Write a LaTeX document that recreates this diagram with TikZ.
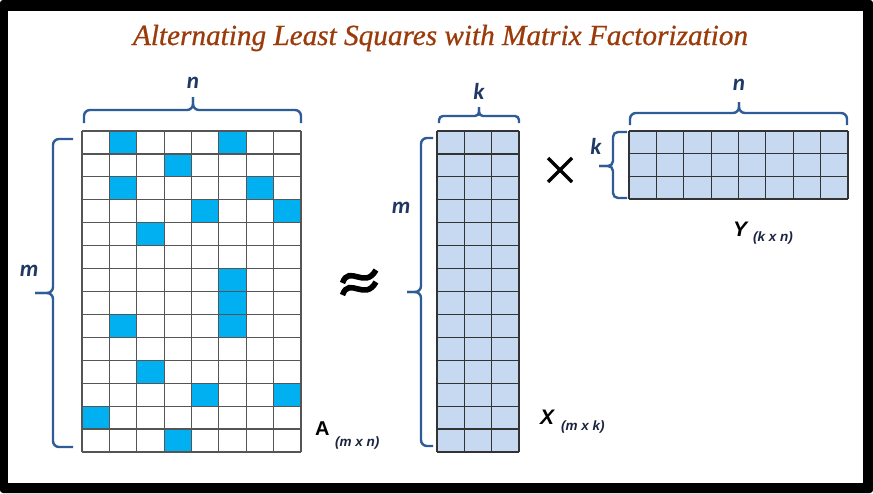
\documentclass[tikz,border=0pt]{standalone}
\usepackage{fontspec}
\usepackage{graphicx}
\newfontfamily\titlefont{Liberation Serif}[ItalicFeatures={FakeBold=0.7}]
\newfontfamily\lblfont{Carlito}
\newfontfamily\arialfont{Liberation Sans}
\definecolor{titlebrown}{HTML}{9C3B0A}
\definecolor{braceblue}{HTML}{2F5C96}
\definecolor{labelblue}{HTML}{1F3864}
\definecolor{subnavy}{HTML}{1A2440}
\definecolor{cellcyan}{HTML}{00B0F0}
\definecolor{cellpale}{HTML}{C6D9F1}
\definecolor{gridgrayA}{HTML}{555555}
\definecolor{gridgrayX}{HTML}{333333}
\begin{document}
\begin{tikzpicture}[x=1pt,y=-1pt,
  bracestyle/.style={draw=braceblue, line width=2.4pt, rounded corners=6pt},
  dimlabel/.style={font=\lblfont\bfseries\itshape\fontsize{23}{23}\selectfont, text=labelblue, inner sep=0pt},
  namelabel/.style={font=\arialfont\bfseries\fontsize{20}{20}\selectfont, inner sep=0pt, anchor=base west},
  namelabelit/.style={font=\arialfont\bfseries\itshape\fontsize{21}{21}\selectfont, inner sep=0pt, anchor=base west},
  sublabel/.style={font=\arialfont\bfseries\itshape\fontsize{13.5}{13.5}\selectfont, text=subnavy, inner sep=0pt, anchor=base west},
  gridA/.style={draw=gridgrayA, line width=1.2pt},
  gridX/.style={draw=gridgrayX, line width=1.2pt},
  matbox/.style={inner sep=0pt, anchor=north west, draw=none}
]
\useasboundingbox (0,0) rectangle (873,493);
% frame
\fill[black, rounded corners=3pt] (0,0) rectangle (873,493);
\fill[white] (8,11) rectangle (863,483);

% title
\node[name=title, text=titlebrown, inner sep=0pt] at (440.5,38)
  {\resizebox{615pt}{!}{\titlefont\itshape\fontsize{28}{28}\selectfont Alternating Least Squares with Matrix Factorization}};

% ---------- matrix A ----------
\node[matbox, name=matA, minimum width=219pt, minimum height=321pt] at (82,131) {};
\fill[white] (82,131) rectangle (301,452);
\foreach \c/\r in {1/0,5/0,3/1,1/2,6/2,4/3,7/3,2/4,5/6,5/7,1/8,5/8,2/10,4/11,7/11,0/12,3/13}
  \fill[cellcyan] (82+\c*27.375,131+\r*22.93) rectangle ++(27.375,22.93);
\foreach \i in {0,...,8}
  \draw[gridA] (82+\i*27.375,131) -- (82+\i*27.375,452);
\foreach \j in {0,...,14}
  \draw[gridA] (82,131+\j*22.93) -- (301,131+\j*22.93);

% braces of A
\coordinate (Atl) at (84,123); \coordinate (Atr) at (301,123);
\coordinate (Atm) at (193,110); \coordinate (Att) at (193,97);
\draw[bracestyle] (Atl) |- (Atm) -- (Att);
\draw[bracestyle] (Atr) |- (Atm) -- (Att);
\coordinate (Alt) at (73,139); \coordinate (Alb) at (73,447);
\coordinate (Alm) at (53,293); \coordinate (Alp) at (35,293);
\draw[bracestyle] (Alt) -| (Alm) -- (Alp);
\draw[bracestyle] (Alb) -| (Alm) -- (Alp);
\node[dimlabel, name=nA] at (193,83) {n};
\node[dimlabel, name=mA] at (29,271) {m};

\node[namelabel, name=labA] at (315,435) {A};
\node[sublabel, name=subA] at (335,446) {(m x n)};

% approx sign
\draw[line width=5.6pt, line cap=butt] (342.5,283) .. controls (349,264) and (365,290) .. (376,270);
\draw[line width=5.6pt, line cap=butt] (342.5,295) .. controls (349,276) and (365,302) .. (376,282);

% ---------- matrix X ----------
\node[matbox, name=matX, minimum width=82pt, minimum height=321pt] at (437,131) {};
\fill[cellpale] (437,131) rectangle (519,452);
\foreach \i in {0,...,3}
  \draw[gridX] (437+\i*27.333,131) -- (437+\i*27.333,452);
\foreach \j in {0,...,14}
  \draw[gridX] (437,131+\j*22.93) -- (519,131+\j*22.93);

\coordinate (Xtl) at (439,123); \coordinate (Xtr) at (519,123);
\coordinate (Xtm) at (479,116); \coordinate (Xtt) at (479,107);
\draw[bracestyle, rounded corners=4pt] (Xtl) |- (Xtm) -- (Xtt);
\draw[bracestyle, rounded corners=4pt] (Xtr) |- (Xtm) -- (Xtt);
\coordinate (Xlt) at (433,138); \coordinate (Xlb) at (433,446);
\coordinate (Xlm) at (421,292); \coordinate (Xlp) at (407,292);
\draw[bracestyle] (Xlt) -| (Xlm) -- (Xlp);
\draw[bracestyle] (Xlb) -| (Xlm) -- (Xlp);
\node[dimlabel, name=kX] at (479,91) {k};
\node[dimlabel, name=mX] at (401,208) {m};

\node[namelabelit, name=labX] at (540,424) {X};
\node[sublabel, name=subX] at (561,430) {(m x k)};

% times sign
\node[name=timesc, inner sep=0pt] at (560,170) {};
\draw[line width=3.4pt] (548,158) -- (572,182);
\draw[line width=3.4pt] (548,182) -- (572,158);

% ---------- matrix Y ----------
\node[matbox, name=matY, minimum width=219pt, minimum height=68pt] at (629,131) {};
\fill[cellpale] (629,131) rectangle (848,199);
\foreach \i in {0,...,8}
  \draw[gridX] (629+\i*27.375,131) -- (629+\i*27.375,199);
\foreach \j in {0,...,3}
  \draw[gridX] (629,131+\j*22.667) -- (848,131+\j*22.667);

\coordinate (Ytl) at (630,125); \coordinate (Ytr) at (847,125);
\coordinate (Ytm) at (739,113); \coordinate (Ytt) at (739,102);
\draw[bracestyle] (Ytl) |- (Ytm) -- (Ytt);
\draw[bracestyle] (Ytr) |- (Ytm) -- (Ytt);
\coordinate (Ylt) at (627,132); \coordinate (Ylb) at (627,198);
\coordinate (Ylm) at (613,166); \coordinate (Ylp) at (599,166);
\draw[bracestyle, rounded corners=5pt] (Ylt) -| (Ylm) -- (Ylp);
\draw[bracestyle, rounded corners=5pt] (Ylb) -| (Ylm) -- (Ylp);
\node[dimlabel, name=nY] at (739,85) {n};
\node[dimlabel, name=kY] at (596,146) {k};

\node[namelabelit, name=labY] at (733,236) {Y};
\node[sublabel, name=subY] at (753,241) {(k x n)};
\end{tikzpicture}
\end{document}
